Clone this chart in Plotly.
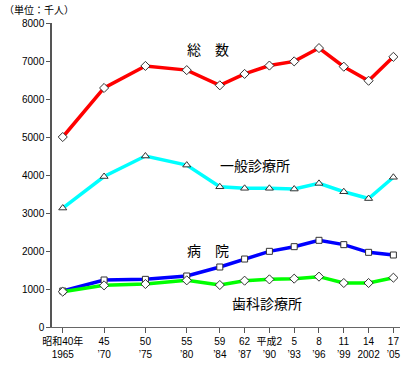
import plotly.graph_objects as go

years = [1965, 1970, 1975, 1980, 1984, 1987, 1990, 1993, 1996, 1999, 2002, 2005]
tick_labels = ["昭和40年<br>1965", "45<br>’70", "50<br>’75", "55<br>’80", "59<br>’84", "62<br>’87",
               "平成2<br>’90", "5<br>’93", "8<br>’96", "11<br>’99", "14<br>2002", "17<br>’05"]
total = [5000, 6290, 6870, 6760, 6360, 6660, 6880, 6990, 7340, 6850, 6480, 7110]
general_clinic = [3130, 3960, 4500, 4260, 3690, 3650, 3650, 3630, 3780, 3560, 3380, 3940]
hospital = [947, 1237, 1254, 1342, 1579, 1789, 1991, 2114, 2281, 2167, 1965, 1895]
dental_clinic = [930, 1096, 1131, 1228, 1105, 1219, 1254, 1272, 1325, 1158, 1158, 1298]
y_ticks = [0, 1000, 2000, 3000, 4000, 5000, 6000, 7000, 8000]

JP = "Noto Sans CJK JP"
NUM = "Liberation Sans, Noto Sans CJK JP"

fig = go.Figure()

def add(series, color, symbol, size):
    fig.add_trace(go.Scatter(
        x=years, y=series, mode="lines+markers",
        line=dict(color=color, width=3.5),
        marker=dict(symbol=symbol, size=size, color="white",
                    line=dict(color="#333333", width=1)),
        showlegend=False, hoverinfo="skip"))

add(total, "#FF0000", "diamond", 7)
add(general_clinic, "#00FFFF", "triangle-up", 7)
add(hospital, "#0000FF", "square", 6)
add(dental_clinic, "#00FF00", "diamond", 7)

annos = [
    dict(text="総　数", x=1982.6, y=7320),
    dict(text="一般診療所", x=1988.3, y=4270),
    dict(text="病　院", x=1982.6, y=2030),
    dict(text="歯科診療所", x=1989.7, y=630),
]
for a in annos:
    fig.add_annotation(x=a["x"], y=a["y"], text=a["text"], showarrow=False,
                       xref="x", yref="y", font=dict(family=JP, size=14, color="black"))

fig.add_annotation(text="（単位：千人）", x=-0.143, y=1.075, xref="paper", yref="paper",
                   xanchor="left", yanchor="top", showarrow=False,
                   font=dict(family=JP, size=10, color="black"))

fig.update_layout(
    width=408, height=369,
    margin=dict(l=52, r=8, t=23, b=42, autoexpand=False),
    paper_bgcolor="white", plot_bgcolor="white",
    xaxis=dict(range=[1963.7, 2005.8], tickvals=years, ticktext=tick_labels,
               showgrid=False, zeroline=False, showline=True, linecolor="#666666",
               linewidth=1, ticks="outside", ticklen=5, tickcolor="#555555",
               tickfont=dict(family=NUM, size=10, color="black"), automargin=False),
    yaxis=dict(range=[0, 8000], tickvals=y_ticks, showgrid=False, zeroline=False,
               showline=True, linecolor="#555555", linewidth=1.5,
               ticks="outside", ticklen=4, tickcolor="#555555",
               tickfont=dict(family=NUM, size=10, color="black"), automargin=False),
)

fig.write_html("out.html", config={"displayModeBar": False})

with open("out.html", "r", encoding="utf-8") as f:
    html = f.read()
html = html.replace("<body>", '<body style="margin:0;padding:0;overflow:hidden">', 1)
with open("out.html", "w", encoding="utf-8") as f:
    f.write(html)
